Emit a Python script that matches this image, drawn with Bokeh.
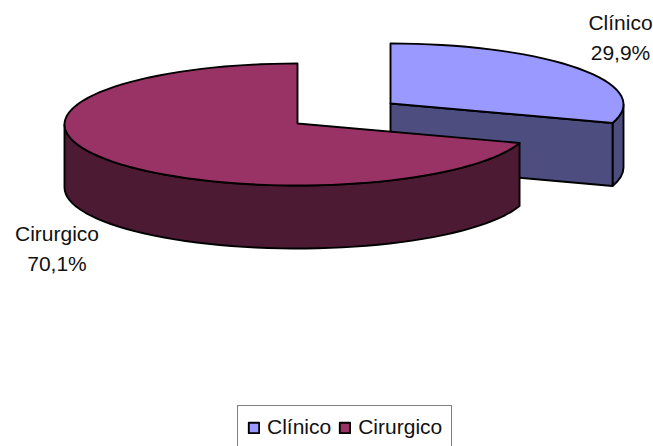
import numpy as np
from bokeh.embed import file_html
from bokeh.models import Legend, LegendItem, Range1d
from bokeh.plotting import figure
from bokeh.resources import INLINE

categories = ["Clínico", "Cirurgico"]
shares = [29.9, 70.1]
top_colors = ["#9999FF", "#993366"]
side_colors = ["#4D4D80", "#4D1A33"]
share_labels = ["29,9%", "70,1%"]

RX, RY, DEPTH = 233, 61, 63
CENTERS = [(390, 104), (297, 124)]
LABEL_POS = [(620, 37), (56.5, 248)]
FONT_SIZE = "21px"

p = figure(width=653, height=446, output_backend="svg", toolbar_location=None,
           x_range=Range1d(0, 653), y_range=Range1d(446, 0), min_border=0)
p.axis.visible = False
p.grid.visible = False
p.outline_line_color = None


def rim(center, a0, a1):
    # Angles run clockwise from twelve o'clock, in degrees.
    t = np.radians(np.linspace(a0, a1, max(int(abs(a1 - a0) / 3), 2)))
    return center[0] + RX * np.sin(t), center[1] - RY * np.cos(t)


line = dict(line_color="black", line_width=1.9, line_join="round")

# Each wedge starts where the previous one ended, going clockwise from the top.
edges = np.cumsum([0] + shares) * 3.6
top_renderers = []
for i in range(len(categories)):
    a0, a1 = edges[i], edges[i + 1]
    c = CENTERS[i]

    # Outer wall: only the part of the rim facing the viewer (90 to 270 degrees).
    w0, w1 = max(a0, 90), min(a1, 270)
    if w1 > w0:
        x, y = rim(c, w0, w1)
        p.patch(np.r_[x, x[::-1]], np.r_[y, y[::-1] + DEPTH],
                fill_color=side_colors[i], **line)

    # Cut face between the centre and the clockwise end of the Clínico wedge.
    if a1 < 180:
        ex, ey = rim(c, a1, a1 + 1)
        ex, ey = ex[0], ey[0]
        p.patch([c[0], ex, ex, c[0]], [c[1] - 1, ey, ey + DEPTH, c[1] - 1 + DEPTH],
                fill_color=side_colors[i], **line)

    x, y = rim(c, a0, a1)
    top_renderers.append(p.patch(np.r_[c[0], x], np.r_[c[1] - 1, y],
                                 fill_color=top_colors[i], **line))

    p.text([LABEL_POS[i][0]], [LABEL_POS[i][1] - 15], text=[categories[i]],
           text_align="center", text_baseline="middle",
           text_font_size=FONT_SIZE, text_font={"value": "Liberation Sans"}, text_color="#111111")
    p.text([LABEL_POS[i][0]], [LABEL_POS[i][1] + 15], text=[share_labels[i]],
           text_align="center", text_baseline="middle",
           text_font_size=FONT_SIZE, text_font={"value": "Liberation Sans"}, text_color="#111111")

legend = Legend(
    items=[LegendItem(label=categories[i], renderers=[top_renderers[i]]) for i in range(2)],
    orientation="horizontal", location=(237, -3), margin=0, padding=9, spacing=7,
    glyph_width=13, glyph_height=13, label_standoff=7,
    label_text_font="Liberation Sans", label_text_font_size=FONT_SIZE, label_text_color="#111111",
    border_line_color="black", border_line_width=1, background_fill_color="white",
    background_fill_alpha=1,
)
p.add_layout(legend, "center")

open("out.html", "w").write(file_html(p, INLINE))
